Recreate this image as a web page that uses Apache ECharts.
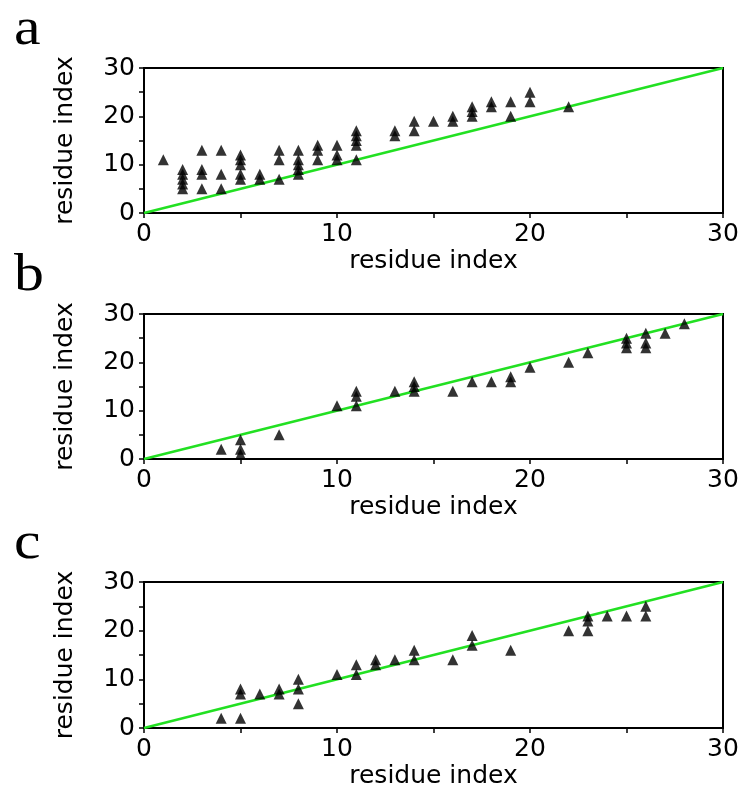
<!DOCTYPE html>
<html>
<head>
<meta charset="utf-8">
<script src="https://cdn.jsdelivr.net/npm/echarts@6/dist/echarts.min.js"></script>
<style>
  html, body { margin: 0; padding: 0; background: #fff; }
  #chart { width: 745px; height: 800px; }
</style>
</head>
<body>
<div id="chart"></div>
<script>
// contact points per panel, [x, y]
var pointsA = [
	[1,11],
	[2,5],[2,6],[2,7],[2,8],[2,9],
	[3,13],[3,9],[3,8],[3,5],
	[4,13],[4,8],[4,5],
	[5,12],[5,11],[5,10],[5,8],[5,7],
	[6,8],[6,7],
	[7,13],[7,11],[7,7],
	[8,13],[8,11],[8,10],[8,9],[8,8],
	[9,14],[9,13],[9,11],
	[10,14],[10,12],[10,11],
	[11,17],[11,16],[11,15],[11,14],[11,11],
	[13,17],[13,16],
	[14,19],[14,17],
	[15,19],
	[16,20],[16,19],
	[17,22],[17,21],[17,20],
	[18,23],[18,22],
	[19,23],[19,20],
	[20,25],[20,23],
	[22,22]
];
var pointsB = [
	[4,2],
	[5,4],[5,2],[5,1],
	[7,5],
	[10,11],
	[11,14],[11,13],[11,11],
	[13,14],
	[14,16],[14,15],[14,14],
	[16,14],
	[17,16],
	[18,16],
	[19,17],[19,16],
	[20,19],
	[22,20],
	[23,22],
	[25,25],[25,24],[25,23],
	[26,26],[26,24],[26,23],
	[27,26],
	[28,28]
];
var pointsC = [
	[4,2],
	[5,8],[5,7],[5,2],
	[6,7],
	[7,8],[7,7],
	[8,10],[8,8],[8,5],
	[10,11],
	[11,13],[11,11],
	[12,14],[12,13],
	[13,14],
	[14,16],[14,14],
	[16,14],
	[17,19],[17,17],
	[19,16],
	[22,20],
	[23,23],[23,22],[23,20],
	[24,23],
	[25,23],
	[26,25],[26,23]
];
var diagonal = [[0,0],[30,30]];
var panelLetters = ['a','b','c'];
var axisName = 'residue index';

var gridTops = [68, 314, 582];
var gridHeights = [145, 145, 146];
var allPoints = [pointsA, pointsB, pointsC];

var chart = echarts.init(document.getElementById('chart'));

var grids = [], xAxes = [], yAxes = [], series = [], texts = [];
var labelFont = { fontFamily: 'DejaVu Sans', fontSize: 25, color: '#000' };
var nameFont = { fontFamily: 'DejaVu Sans', fontSize: 25, color: '#000' };

for (var i = 0; i < 3; i++) {
	grids.push({
		left: 144, right: 22, top: gridTops[i], height: gridHeights[i],
		show: true, borderColor: '#000', borderWidth: 2, backgroundColor: 'transparent'
	});
	xAxes.push({
		type: 'value', gridIndex: i, min: 0, max: 30, interval: 10,
		name: axisName, nameLocation: 'middle', nameGap: 36,
		nameTextStyle: nameFont,
		axisLine: { lineStyle: { color: '#000', width: 2 } },
		axisTick: { show: true, length: 5, lineStyle: { color: '#000', width: 1.5 } },
		minorTick: { show: true, splitNumber: 2, length: 5, lineStyle: { color: '#000', width: 1.5 } },
		axisLabel: Object.assign({ margin: 9 }, labelFont),
		splitLine: { show: false }
	});
	yAxes.push({
		type: 'value', gridIndex: i, min: 0, max: 30, interval: 10,
		name: axisName, nameLocation: 'middle', nameGap: 66,
		nameTextStyle: nameFont,
		axisLine: { lineStyle: { color: '#000', width: 2 } },
		axisTick: { show: true, length: 5, lineStyle: { color: '#000', width: 1.5 } },
		minorTick: { show: true, splitNumber: 2, length: 5, lineStyle: { color: '#000', width: 1.5 } },
		axisLabel: Object.assign({ margin: 9 }, labelFont),
		splitLine: { show: false }
	});
	series.push({
		type: 'line', xAxisIndex: i, yAxisIndex: i, data: diagonal,
		symbol: 'none', lineStyle: { color: '#22e022', width: 2.5 }, z: 2, silent: true
	});
	series.push({
		type: 'scatter', xAxisIndex: i, yAxisIndex: i, data: allPoints[i],
		symbol: 'triangle', symbolSize: 11, itemStyle: { color: '#000' }, z: 3
	});
	texts.push({
		type: 'text', x: 14, y: gridTops[i] - 64, scaleX: 1.15,
		style: { text: panelLetters[i], font: '52px "Liberation Serif"', fill: '#000' }
	});
}

var option = {
	animation: false,
	grid: grids,
	xAxis: xAxes,
	yAxis: yAxes,
	series: series,
	graphic: texts
};
chart.setOption(option);
</script>
</body>
</html>
